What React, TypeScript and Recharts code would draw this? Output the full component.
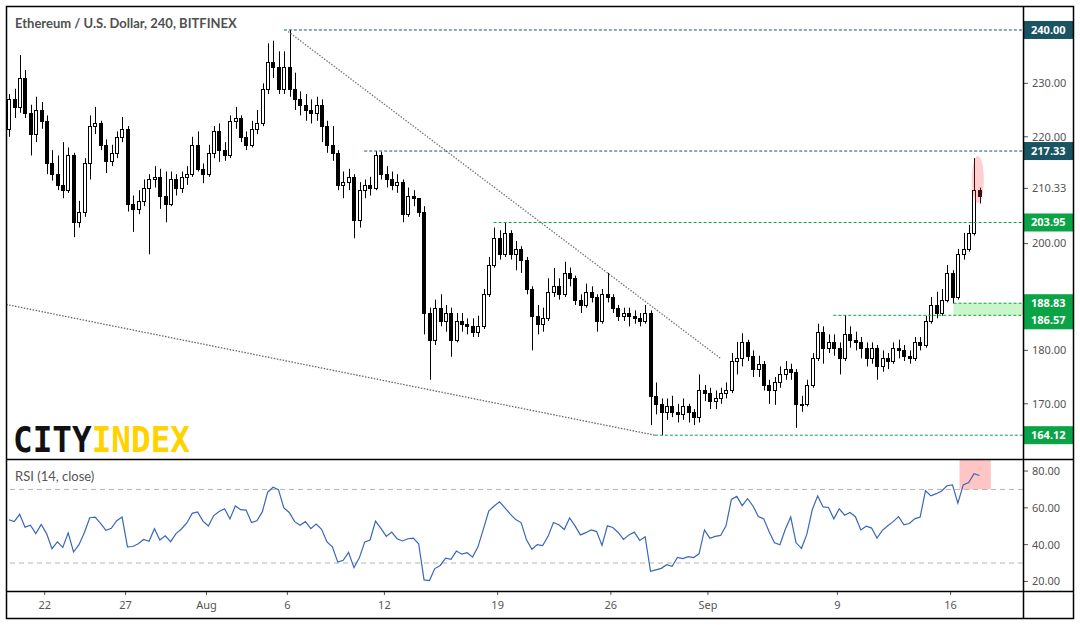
import React from 'react';
import {
  ComposedChart,
  Bar,
  Line,
  XAxis,
  YAxis,
  ReferenceLine,
  ReferenceArea,
  ReferenceDot,
} from 'recharts';

// 8h candles, 19 Jul -> 17 Sep
const opens = [
  221.5, 227, 225.5, 231, 224.5, 220.5, 225, 223, 215, 213, 211, 210, 216.5, 204, 206, 215, 222, 222.5, 218.5, 215.5,
  217, 220, 221.5, 207.5, 206.5, 208, 210.5, 212, 212.5, 209, 207.5, 212, 210.5, 212.5, 213, 218.5, 214, 213, 217, 221,
  217.5, 216.5, 223, 223.5, 220, 218.5, 221.5, 222.5, 229, 234, 233, 229, 233, 229, 227, 226, 225, 224.5, 226, 222,
  218.5, 217, 211, 211.5, 212.5, 204.5, 210, 211, 210.5, 216.5, 213, 212, 211, 211.5, 205.5, 209, 208.5, 206, 187, 182,
  188, 185.5, 187, 182, 185.5, 185, 184.5, 183.5, 184.5, 190.5, 196, 201, 198, 202, 198, 199, 197, 191.5, 186.5, 185,
  186, 191, 192, 190.5, 194.5, 193.5, 189.5, 188.5, 191, 190, 185.5, 190.5, 190, 188, 186.5, 187, 186.5, 186, 185.5, 187,
  171.5, 170, 168.5, 169.5, 168.5, 168, 169.5, 168.5, 167.5, 172.5, 172, 170.5, 171, 172, 172.5, 178, 178.5, 181.5, 179, 176.5,
  177.5, 173.5, 172.5, 174, 175.5, 176.5, 176, 170, 170, 173.5, 178.5, 183.5, 180.5, 181.5, 180.5, 178.5, 183, 182, 181.5, 180.5,
  178.5, 180.5, 177, 178.5, 178, 180.5, 180, 179, 178.5, 181.5, 181, 185.5, 188.5, 187, 189.5, 194.5, 190, 198, 199, 202,
  210,
];
const highs = [
  228, 229, 235.3, 232.5, 226, 227.5, 226.5, 224, 217.5, 216.5, 219, 218, 217, 208, 216, 224, 225.6, 223, 219.5, 218.5,
  221, 223.7, 222, 209, 210, 212, 213, 214.5, 214, 213.5, 213.5, 213, 213.5, 214.5, 220, 221, 215, 218.5, 222, 222.5,
  219, 224, 225.6, 224, 221, 223, 225, 230, 237.5, 238, 236, 236, 240, 232, 228.5, 228, 227, 227.5, 227, 223,
  222, 217.5, 213.5, 214, 213, 211.5, 212, 212.5, 217.33, 217.2, 214.5, 213.5, 213, 212, 210.5, 210, 208.5, 207, 188, 189.5,
  190.5, 188.5, 188, 187, 187, 186, 186, 186.5, 191.5, 197.5, 203, 202.5, 203.95, 202.5, 200.5, 199.5, 197.5, 192, 188.5, 188,
  193.5, 195.4, 193.5, 196.6, 195.5, 194, 190.5, 192.5, 192, 190.5, 191.5, 194.5, 190.5, 188.5, 188, 188, 187.5, 187, 188.5, 187.5,
  174, 171, 171, 171.5, 170, 171, 170, 169, 175.5, 173.5, 173, 172.5, 173, 174, 179.5, 181.6, 183.2, 182, 180, 179,
  178, 174.5, 175, 177, 178, 177.5, 176.5, 171.5, 174.5, 179.5, 185, 184.5, 183, 183, 181.5, 186.6, 184.5, 183.5, 182.5, 181.5,
  181.5, 181, 180, 179.5, 181.5, 182, 181, 180, 182.5, 182.5, 186.5, 190, 191, 191.5, 196, 195, 199, 202, 203.5, 216,
  210.5,
];
const lows = [
  220, 223.5, 224.5, 223.5, 216.5, 219, 221.5, 213, 211.8, 210, 208.5, 209.5, 201.2, 203, 205, 212, 220.5, 217.5, 213.2, 214.5,
  216, 219, 206, 202.2, 205.5, 207, 198, 210.5, 206.5, 204, 207, 209, 209.5, 211, 212.5, 213.5, 211.3, 212.5, 216, 215.3,
  215.5, 216, 221.5, 219, 217.5, 218, 220.5, 222, 228, 231, 228, 228, 227.5, 225, 224, 223, 222.5, 223, 219, 217,
  215.5, 210, 208.5, 210, 201, 203, 208.5, 209, 210, 212, 210.5, 210, 209.5, 204, 205, 207, 205, 183, 174.5, 181,
  184.5, 183.5, 178.8, 181.5, 183.5, 183, 182.5, 182.5, 184, 190, 195.5, 197, 197.5, 197, 195, 194.5, 190.5, 180, 183, 183.5,
  185.5, 190, 189.5, 190, 192, 188.5, 187, 188, 189, 183.5, 185, 189, 187, 185.5, 185.5, 184.5, 185, 184.5, 185, 166,
  168, 164.12, 167, 167.5, 166.5, 167, 166.5, 166, 166.5, 170.5, 169, 169, 170, 171, 172, 175.5, 177, 178, 175, 175,
  172.5, 170, 169.8, 173, 174.5, 174.5, 165.5, 168.5, 169.5, 173, 178, 177.5, 179.5, 179, 175.5, 178, 180.5, 180, 178.5, 177,
  177.5, 174.5, 176, 176.5, 177.5, 178.5, 178, 177.5, 178, 180, 180.5, 185, 186, 186.5, 189, 188.8, 189.5, 197, 198.5, 201.5,
  207.5,
];
const closes = [
  227, 225.5, 231, 224.5, 220.5, 225, 223, 215, 213, 211, 210, 216.5, 204, 206, 215, 222, 222.5, 218.5, 215.5, 217,
  220, 221.5, 207.5, 206.5, 208, 210.5, 212, 212.5, 209, 207.5, 212, 210.5, 212.5, 213, 218.5, 214, 213, 217, 221, 217.5,
  216.5, 223, 223.5, 220, 218.5, 221.5, 222.5, 229, 234, 233, 229, 233, 229, 227, 226, 225, 224.5, 226, 222, 218.5,
  217, 211, 211.5, 212.5, 204.5, 210, 211, 210.5, 216.5, 213, 212, 211, 211.5, 205.5, 209, 208.5, 206, 187, 182, 188,
  185.5, 187, 182, 185.5, 185, 184.5, 183.5, 184.5, 190.5, 196, 201, 198, 202, 198, 199, 197, 191.5, 186.5, 185, 186,
  191, 192, 190.5, 194.5, 193.5, 189.5, 188.5, 191, 190, 185.5, 190.5, 190, 188, 186.5, 187, 186.5, 186, 185.5, 187, 171.5,
  170, 168.5, 169.5, 168.5, 168, 169.5, 168.5, 167.5, 172.5, 172, 170.5, 171, 172, 172.5, 178, 178.5, 181.5, 179, 176.5, 177.5,
  173.5, 172.5, 174, 175.5, 176.5, 176, 170, 170, 173.5, 178.5, 183.5, 180.5, 181.5, 180.5, 178.5, 183, 182, 181.5, 180.5, 178.5,
  180.5, 177, 178.5, 178, 180.5, 180, 179, 178.5, 181.5, 181, 185.5, 188.5, 187, 189.5, 194.5, 190, 198, 199, 202, 210,
  209,
];

// RSI (14, close), one value per candle above
const rsiValues = [
  53.5, 52.5, 56.5, 49.5, 50.6, 46, 51, 46, 37.8, 41.5, 38.5, 46.4, 36, 40, 46.5, 54.6, 55, 51.6, 47.8, 48.9,
  53, 55, 38.8, 39, 40.5, 42.8, 41.8, 48.6, 42.5, 44.8, 41.6, 46, 48.5, 51.8, 57, 57.8, 52.8, 50.1, 55.8, 58,
  59.5, 54, 61, 59, 58.8, 52, 53, 57.8, 68.5, 71.2, 69.9, 60, 57.5, 52.5, 50.5, 52.5, 48.7, 51.2, 48.3, 41.5,
  38.8, 30.5, 31.5, 35.8, 27.5, 32.8, 41.5, 42.5, 52.8, 48.8, 44.5, 46.8, 43.2, 42, 43.2, 43.5, 40.5, 20.8, 20.5, 27,
  28.7, 32.7, 32, 36.5, 34.8, 35.6, 33.2, 38.8, 48.4, 58.2, 61, 63.3, 60, 56.6, 53.6, 52, 42.6, 37.5, 40, 39.5,
  44.5, 52, 50.8, 48.2, 54.5, 50.2, 45.3, 46.5, 48, 47.1, 39.6, 50.2, 49.3, 46.6, 42.8, 45.3, 46.8, 42.3, 44.3, 25.5,
  26.3, 27.1, 29.1, 28.2, 33, 32.4, 33.5, 33, 35, 48, 43.5, 44.5, 45, 50.2, 64.6, 66.2, 61.2, 65, 61, 55.3,
  54, 47, 41, 39.9, 48.4, 55, 41, 38, 45.7, 59, 66.5, 60.5, 60.2, 54, 59.5, 56, 57.5, 55.2, 48, 50,
  49, 43.6, 47.8, 50.3, 52.5, 55.2, 50.8, 51.5, 54, 55, 69.3, 66.5, 67.7, 69.2, 72, 72.5, 62.5, 72.5, 73.7, 78.5,
  77.6,
];

// date ticks, in candle units (3 candles per day)
const dayTicks = [6.65, 21.65, 36.65, 51.65, 69.65, 90.65, 111.65, 129.65, 153.65, 174.65];
const dayLabels = ['22', '27', 'Aug', '6', '12', '19', '26', 'Sep', '9', '16'];

const priceTicks = [160, 170, 180, 200, 210.33, 220, 230];
const rsiTicks = [20, 40, 60, 80];

// horizontal levels drawn on the chart
const levelPrices = [240, 217.33, 203.95, 188.83, 186.57, 164.12];
const levelStarts = [51.0, 65.9, 89.9, 175.2, 152.9, 119.8];
const levelGreen = [false, false, true, true, true, true];

const X_DOMAIN: [number, number] = [-0.53, 188.08];
const TEAL = '#1a5361';
const GREEN = '#0aa345';
const AXIS_FONT = 'Noto Sans, sans-serif';

const candles = closes.map((c, i) => ({
  i,
  open: opens[i],
  high: highs[i],
  low: lows[i],
  close: c,
  range: [lows[i], highs[i]],
}));

const rsiData = rsiValues.map((v, i) => ({ i, rsi: v }));

function renderCandle(props: any) {
  const { x, y, width, height, payload } = props;
  if (!payload || x == null || y == null) return <g />;
  const { open, high, low, close } = payload;
  const top = Math.min(y, y + height);
  const bottom = Math.max(y, y + height);
  const span = high - low || 1;
  const py = (v: number) => top + ((high - v) / span) * (bottom - top);
  const c = Math.round(x + width / 2);
  const yO = py(open);
  const yC = py(close);
  const bTop = Math.round(Math.min(yO, yC)) + 0.5;
  const bBot = Math.max(Math.round(Math.max(yO, yC)) + 0.5, bTop + 1);
  const up = close >= open;
  return (
    <g>
      <line x1={c + 0.5} x2={c + 0.5} y1={top} y2={bottom} stroke="#000" strokeWidth={1} />
      <rect
        x={c - 1.5}
        y={bTop}
        width={3}
        height={bBot - bTop}
        fill={up ? '#fff' : '#000'}
        stroke="#000"
        strokeWidth={1}
      />
    </g>
  );
}

const levelLabel = (text: string, fill: string, dy: number) => (props: any) => {
  const vb = props.viewBox || {};
  const right = (vb.x || 0) + (vb.width || 0);
  const cy = (vb.y || 0) + dy;
  return (
    <g>
      <rect x={right} y={cy - 9} width={50} height={18} fill={fill} />
      <text x={right + 8} y={cy + 4} fill="#fff" fontSize={11} fontWeight={700} fontFamily={AXIS_FONT}>
        {text}
      </text>
    </g>
  );
};

function PriceChart() {
  return (
    <ComposedChart
      width={1080}
      height={460}
      data={candles}
      margin={{ top: 6, right: 7, bottom: 1, left: 6 }}
    >
      <XAxis type="number" dataKey="i" domain={X_DOMAIN} hide allowDataOverflow />
      <YAxis
        orientation="right"
        domain={[159.66, 244.49]}
        ticks={priceTicks}
        tickFormatter={(v: number) => v.toFixed(2)}
        width={50}
        axisLine={false}
        tickLine={{ stroke: '#555' }}
        tickSize={5}
        tickMargin={4}
        tick={{ fill: '#555', fontSize: 11, fontFamily: AXIS_FONT }}
        allowDataOverflow
      />
      <ReferenceArea
        x1={175.2}
        x2={X_DOMAIN[1]}
        y1={186.57}
        y2={188.83}
        fill="#c9f6c9"
        fillOpacity={1}
        stroke="none"
        ifOverflow="visible"
      />
      <ReferenceLine
        segment={[{ x: 51.8, y: 239.7 }, { x: 132.0, y: 178.5 }]}
        stroke="#777"
        strokeWidth={1.3}
        strokeDasharray="1.5 1.5"
        ifOverflow="visible"
      />
      <ReferenceLine
        segment={[{ x: -0.5, y: 188.6 }, { x: 119.8, y: 164.12 }]}
        stroke="#666"
        strokeWidth={1.3}
        strokeDasharray="1.5 1.5"
        ifOverflow="visible"
      />
      {levelPrices.map((p, k) => (
        <ReferenceLine
          key={p}
          segment={[{ x: levelStarts[k], y: p }, { x: X_DOMAIN[1], y: p }]}
          stroke={levelGreen[k] ? GREEN : TEAL}
          strokeWidth={1}
          strokeDasharray="3 2"
          ifOverflow="visible"
          label={levelLabel(p.toFixed(2), levelGreen[k] ? GREEN : TEAL, p === 186.57 ? 5 : 0)}
        />
      ))}
      <Bar dataKey="range" barSize={4} shape={renderCandle} isAnimationActive={false} />
      <ReferenceDot
        x={179.7}
        y={212}
        r={6}
        ifOverflow="visible"
        shape={(p: any) => (
          <ellipse cx={p.cx} cy={p.cy} rx={6} ry={23.5} fill="#ff3b3b" fillOpacity={0.25} stroke="none" />
        )}
      />
    </ComposedChart>
  );
}

function RsiChart() {
  return (
    <ComposedChart
      width={1080}
      height={166}
      data={rsiData}
      margin={{ top: 1, right: 7, bottom: 7, left: 6 }}
    >
      <XAxis
        type="number"
        dataKey="i"
        domain={X_DOMAIN}
        ticks={dayTicks}
        interval={0}
        tickFormatter={(v: number) => dayLabels[dayTicks.indexOf(v)] ?? ''}
        height={27}
        axisLine={false}
        tickLine={{ stroke: '#555' }}
        tickSize={4}
        tickMargin={6}
        tick={{ fill: '#555', fontSize: 11, fontFamily: AXIS_FONT }}
        allowDataOverflow
      />
      <YAxis
        orientation="right"
        domain={[14.8, 86]}
        ticks={rsiTicks}
        tickFormatter={(v: number) => v.toFixed(2)}
        width={50}
        axisLine={false}
        tickLine={{ stroke: '#555' }}
        tickSize={5}
        tickMargin={4}
        tick={{ fill: '#555', fontSize: 11, fontFamily: AXIS_FONT }}
        allowDataOverflow
      />
      <ReferenceLine y={70} stroke="#b5b5b5" strokeDasharray="5 4" />
      <ReferenceLine y={30} stroke="#b5b5b5" strokeDasharray="5 4" />
      <Line
        type="linear"
        dataKey="rsi"
        stroke="#3a66b8"
        strokeWidth={1.2}
        dot={false}
        isAnimationActive={false}
      />
      <ReferenceArea
        x1={176.3}
        x2={182.1}
        y1={70}
        y2={86}
        fill="#ff3b3b"
        fillOpacity={0.3}
        stroke="none"
        ifOverflow="visible"
      />
    </ComposedChart>
  );
}

export default function App() {
  return (
    <div style={{ position: 'relative', width: 1080, height: 625, background: '#fff', overflow: 'hidden' }}>
      <style>{'body{margin:0}'}</style>
      <div style={{ position: 'absolute', left: 0, top: 0 }}>
        <PriceChart />
      </div>
      <div style={{ position: 'absolute', left: 0, top: 459, background: '#fff' }}>
        <RsiChart />
      </div>
      <svg
        width={1080}
        height={625}
        style={{ position: 'absolute', left: 0, top: 0, pointerEvents: 'none' }}
      >
        <rect x={6.5} y={6.5} width={1067} height={612} fill="none" stroke="#000" strokeWidth={1.5} />
        <line x1={6} x2={1074} y1={459.5} y2={459.5} stroke="#000" strokeWidth={1.5} />
        <line x1={6} x2={1074} y1={591.5} y2={591.5} stroke="#000" strokeWidth={1.5} />
        <line x1={1023.5} x2={1023.5} y1={6} y2={619} stroke="#000" strokeWidth={1.5} />
        <text x={15} y={27.5} fontFamily="Lato, sans-serif" fontWeight={700} fontSize={13} fill="#505050">
          Ethereum / U.S. Dollar, 240, BITFINEX
        </text>
        <text x={15} y={481} fontFamily="Lato, sans-serif" fontSize={13} fill="#555">
          RSI (14, close)
        </text>
        <text
          x={13}
          y={452}
          fontFamily="DejaVu Sans Mono, monospace"
          fontWeight={700}
          fontSize={36}
          textLength={177}
          lengthAdjust="spacingAndGlyphs"
        >
          <tspan fill="#111">CITY</tspan>
          <tspan fill="#ffd300">INDEX</tspan>
        </text>
      </svg>
    </div>
  );
}
